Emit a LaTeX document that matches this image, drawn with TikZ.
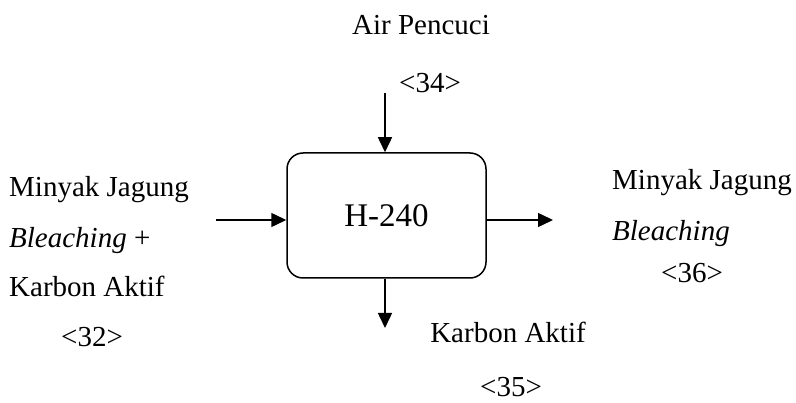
\documentclass[tikz,border=0pt]{standalone}
\usepackage{fontspec}
\setmainfont{Liberation Serif}
\usetikzlibrary{arrows.meta}
\begin{document}
\begin{tikzpicture}[x=1pt,y=-1pt,
  lbl/.style={inner sep=0pt,font=\fontsize{29}{35}\selectfont},
  unit/.style={draw,line width=1.5pt,rounded corners=16pt,minimum width=199pt,minimum height=125pt,inner sep=0pt,font=\fontsize{33}{40}\selectfont},
  flow/.style={line width=1.5pt,-{Triangle[length=15pt,width=14pt]}}]
\useasboundingbox (0,0) rectangle (796,403);
\node[unit] (box) at (386.5,215.5) {H-240};
% labels
\node[lbl,anchor=base] (air) at (421,35) {Air Pencuci};
\node[lbl,anchor=base] (s34) at (430,93) {<34>};
\node[lbl,anchor=base west] (l1) at (9,197) {Minyak Jagung};
\node[lbl,anchor=base west] (l2) at (9,248) {\textit{Bleaching} +};
\node[lbl,anchor=base west] (l3) at (9,297) {Karbon Aktif};
\node[lbl,anchor=base] (s32) at (92,347) {<32>};
\node[lbl,anchor=base west] (r1) at (612,190) {Minyak Jagung};
\node[lbl,anchor=base west] (r2) at (612,241) {\textit{Bleaching}};
\node[lbl,anchor=base] (s36) at (692,283) {<36>};
\node[lbl,anchor=base] (b1) at (508,343) {Karbon Aktif};
\node[lbl,anchor=base] (s35) at (511,397) {<35>};
% connectors
\coordinate (topin) at (385,93);
\coordinate (leftin) at (216,220);
\coordinate (rightout) at (553,220);
\coordinate (botout) at (385,330);
\draw[flow] (topin) -- (topin |- box.north);
\draw[flow] (leftin) -- (leftin -| box.west);
\draw[flow] (rightout -| box.east) -- (rightout);
\draw[flow] (botout |- box.south) -- ([yshift=2pt]botout);
\end{tikzpicture}
\end{document}
